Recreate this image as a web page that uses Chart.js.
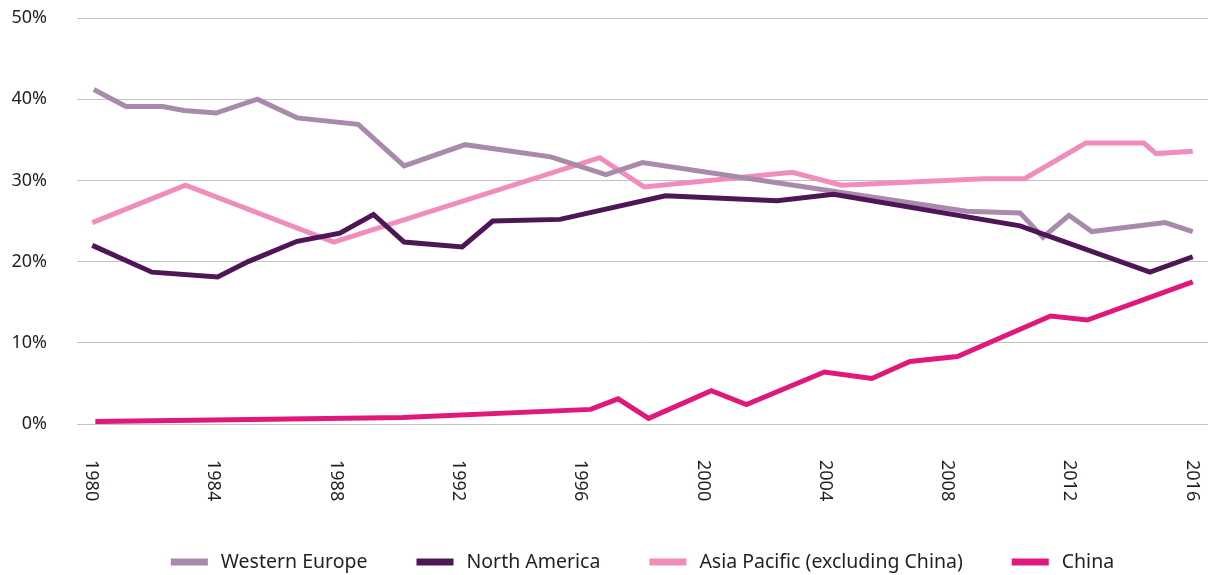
<!DOCTYPE html>
<html>
<head>
<meta charset="utf-8">
<script src="https://cdn.jsdelivr.net/npm/chart.js@4.4.1/dist/chart.umd.min.js"></script>
<style>
  html, body { margin: 0; padding: 0; background: #fff; }
  #wrap { width: 1208px; height: 575px; position: relative; }
</style>
</head>
<body>
<div id="wrap"><canvas id="shareChart"></canvas></div>
<script>
const seriesNames = ['Western Europe', 'North America', 'Asia Pacific (excluding China)', 'China'];
const seriesColors = ['#a88aab', '#4f1657', '#f08dbd', '#e1187c'];

// share of total, % — x positions (they are not evenly spaced)
const weYears  = [1980.05, 1981.1, 1982.3, 1983.0, 1984.05, 1985.4, 1986.7, 1988.7, 1990.2, 1992.2, 1995.0, 1996.8, 1998.0, 2008.6, 2010.35, 2011.1, 2011.95, 2012.7, 2015.1, 2016.0];
const weShare  = [41.2, 39.1, 39.1, 38.6, 38.3, 40.0, 37.7, 36.9, 31.8, 34.4, 32.9, 30.7, 32.2, 26.2, 26.0, 23.0, 25.7, 23.7, 24.8, 23.7];

const naYears  = [1980.0, 1981.95, 1984.1, 1985.1, 1986.7, 1988.1, 1989.2, 1990.2, 1992.1, 1993.1, 1995.3, 1998.75, 2002.4, 2004.25, 2010.35, 2014.6, 2016.0];
const naShare  = [22.0, 18.7, 18.1, 20.0, 22.5, 23.5, 25.8, 22.4, 21.8, 25.0, 25.2, 28.1, 27.5, 28.3, 24.4, 18.7, 20.6];

const apYears  = [1980.0, 1983.05, 1987.9, 1996.6, 1998.05, 2002.9, 2004.5, 2009.15, 2010.5, 2012.5, 2014.4, 2014.8, 2016.0];
const apShare  = [24.8, 29.4, 22.4, 32.8, 29.2, 31.0, 29.4, 30.2, 30.2, 34.6, 34.6, 33.3, 33.6];

const cnYears  = [1980.1, 1990.15, 1996.3, 1997.2, 1998.2, 2000.25, 2001.4, 2003.95, 2005.5, 2006.75, 2008.3, 2011.35, 2012.55, 2016.0];
const cnShare  = [0.3, 0.8, 1.8, 3.1, 0.7, 4.1, 2.4, 6.4, 5.6, 7.7, 8.3, 13.3, 12.8, 17.5];

const yearTicks  = [1980, 1984, 1988, 1992, 1996, 2000, 2004, 2008, 2012, 2016];
const shareTicks = [0, 10, 20, 30, 40, 50];

const FONT = '"Noto Sans", sans-serif';
const TEXT = '#231f20';

function toPoints(xs, ys) {
  return xs.map((x, i) => ({ x, y: ys[i] }));
}

// ── x labels (read top to bottom) + legend ──
const extrasPlugin = {
  id: 'extras',
  afterDraw(chart) {
    const { ctx, chartArea, scales } = chart;
    ctx.save();
    ctx.fillStyle = TEXT;
    ctx.font = '18px ' + FONT;
    ctx.textAlign = 'left';
    ctx.textBaseline = 'middle';
    yearTicks.forEach(yr => {
      const px = scales.x.getPixelForValue(yr) - 1;
      ctx.save();
      ctx.translate(px, chartArea.bottom + 36);
      ctx.rotate(Math.PI / 2);
      ctx.fillText(String(yr), 0, 0);
      ctx.restore();
    });

    // legend
    ctx.font = '19.5px ' + FONT;
    const boxW = 37, boxH = 7, gapText = 13, gapItem = 49, legendY = 562;
    const widths = seriesNames.map(n => ctx.measureText(n).width);
    let total = 0;
    widths.forEach((w, i) => { total += boxW + gapText + w + (i < widths.length - 1 ? gapItem : 0); });
    let x = (chartArea.left + chartArea.right) / 2 - total / 2;
    seriesNames.forEach((name, i) => {
      ctx.fillStyle = seriesColors[i];
      ctx.fillRect(x, legendY - boxH / 2, boxW, boxH);
      ctx.fillStyle = TEXT;
      ctx.fillText(name, x + boxW + gapText, legendY);
      x += boxW + gapText + widths[i] + gapItem;
    });
    ctx.restore();
  }
};

const line = (i, xs, ys, order) => ({
  label: seriesNames[i],
  data: toPoints(xs, ys),
  borderColor: seriesColors[i],
  backgroundColor: seriesColors[i],
  borderWidth: 5,
  pointRadius: 0,
  tension: 0,
  fill: false,
  order
});

new Chart(document.getElementById('shareChart'), {
  type: 'line',
  data: {
    datasets: [
      line(0, weYears, weShare, 1),
      line(1, naYears, naShare, 0),
      line(2, apYears, apShare, 2),
      line(3, cnYears, cnShare, 3)
    ]
  },
  options: {
    responsive: true,
    maintainAspectRatio: false,
    animation: false,
    layout: { padding: { top: 18, right: 0, bottom: 143, left: 0 } },
    plugins: {
      legend: { display: false },
      tooltip: { enabled: false }
    },
    scales: {
      x: {
        type: 'linear',
        min: 1979.5,
        max: 2016.5,
        grid: { display: false },
        border: { display: false },
        ticks: { display: false, stepSize: 4, includeBounds: false }
      },
      y: {
        min: 0,
        max: 50,
        afterFit(scale) { scale.width = 77; },
        afterBuildTicks(scale) { scale.ticks = shareTicks.map(v => ({ value: v })); },
        grid: { color: '#c2c2c2', lineWidth: 1, drawTicks: true, tickLength: 30, tickColor: 'rgba(0,0,0,0)' },
        border: { display: false },
        ticks: {
          padding: 0,
          color: TEXT,
          font: { family: FONT, size: 18 },
          callback: v => v + '%'
        }
      }
    }
  },
  plugins: [extrasPlugin]
});
</script>
</body>
</html>
